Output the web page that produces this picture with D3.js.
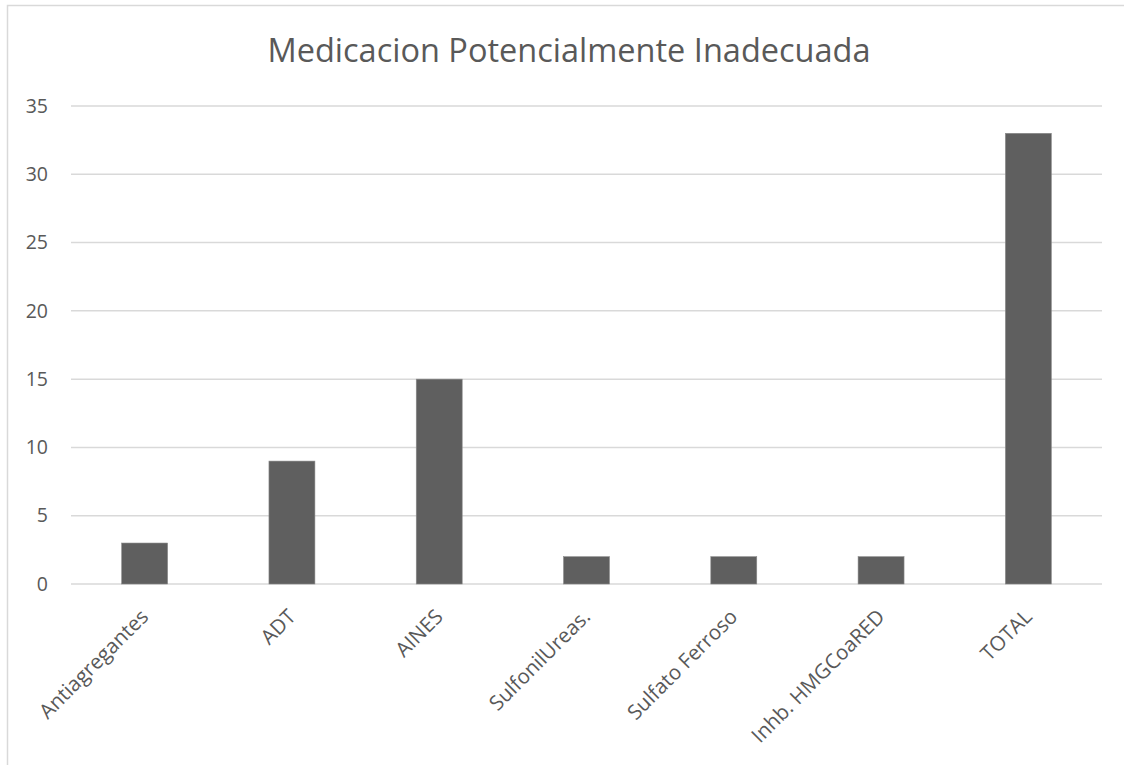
<!DOCTYPE html>
<html>
<head>
<meta charset="utf-8">
<script src="https://cdn.jsdelivr.net/npm/d3@7"></script>
<style>
  body { margin: 0; background: #fff; overflow: hidden; }
  svg { display: block; }
  text { font-family: "Open Sans", sans-serif; fill: #595959; }
</style>
</head>
<body>
<div id="chart"></div>
<script>
// データ
const categories = ["Antiagregantes", "ADT", "AINES", "SulfonilUreas.", "Sulfato Ferroso", "Inhb. HMGCoaRED", "TOTAL"];
const values = [3, 9, 15, 2, 2, 2, 33];
const yTicks = [0, 5, 10, 15, 20, 25, 30, 35];
const title = "Medicacion Potencialmente Inadecuada";

const W = 1124, H = 765;
const plot = {left: 71, right: 1102, top: 106, bottom: 584};

const svg = d3.select("#chart").append("svg")
  .attr("width", W)
  .attr("height", H);

// 枠
svg.append("rect")
  .attr("x", 7.5).attr("y", 5.5)
  .attr("width", W + 40).attr("height", H + 40)
  .attr("fill", "#fff")
  .attr("stroke", "#d9d9d9")
  .attr("stroke-width", 1.5);

// タイトル
svg.append("text")
  .attr("x", 569)
  .attr("y", 62)
  .attr("text-anchor", "middle")
  .style("font-size", "32.5px")
  .text(title);

const x = d3.scaleBand()
  .domain(categories)
  .range([plot.left, plot.right]);

const y = d3.scaleLinear()
  .domain([0, 35])
  .range([plot.bottom, plot.top]);

// グリッド線
svg.append("g")
  .selectAll("line")
  .data(yTicks)
  .enter().append("line")
  .attr("x1", plot.left).attr("x2", plot.right)
  .attr("y1", d => y(d)).attr("y2", d => y(d))
  .attr("stroke", "#d9d9d9")
  .attr("stroke-width", 1.5);

// Y軸ラベル
const yAxis = d3.axisLeft(y).tickValues(yTicks).tickSize(0).tickPadding(0);
const gy = svg.append("g")
  .attr("transform", `translate(48,0)`)
  .call(yAxis);
gy.select(".domain").remove();
gy.selectAll("text")
  .style("font-size", "19.5px")
  .style("fill", "#595959")
  .style("font-family", "'Open Sans', sans-serif");

// 棒
const barW = x.bandwidth() * 0.312;
svg.append("g")
  .selectAll("rect")
  .data(values)
  .enter().append("rect")
  .attr("x", (d, i) => x(categories[i]) + x.bandwidth() / 2 - barW / 2)
  .attr("y", d => y(d))
  .attr("width", barW)
  .attr("height", d => y(0) - y(d))
  .attr("fill", "#5f5f5f")
  .attr("stroke", "#8a8a8a")
  .attr("stroke-width", 0.6);

// X軸ラベル（45度回転）
svg.append("g")
  .selectAll("text")
  .data(categories)
  .enter().append("text")
  .attr("text-anchor", "end")
  .attr("transform", d => `translate(${x(d) + x.bandwidth() / 2 + 5},${plot.bottom + 34}) rotate(-45)`)
  .style("font-size", "20.5px")
  .text(d => d);
</script>
</body>
</html>
